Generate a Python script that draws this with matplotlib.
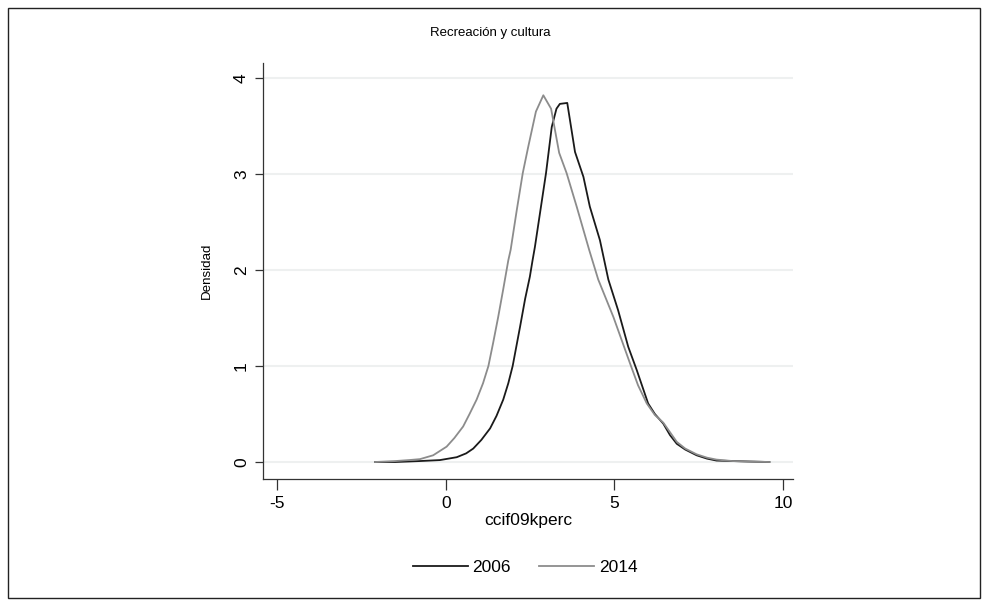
import matplotlib

matplotlib.use('Agg')
import matplotlib.pyplot as plt
from matplotlib.lines import Line2D
from matplotlib.patches import Rectangle

plt.rcParams['font.family'] = ['Liberation Sans Narrow', 'Liberation Sans', 'DejaVu Sans']

TITLE = 'Recreación y cultura'
XLABEL = 'ccif09kperc'
YLABEL = 'Densidad'
SERIES = ['2006', '2014']

# kernel density estimates
x_2006 = [-2.1, -1.5, -0.77, -0.18, 0.32, 0.6, 0.81, 1.05, 1.31, 1.5, 1.7, 1.85,
          1.98, 2.2, 2.35, 2.49, 2.57, 2.64, 2.79, 2.97, 3.14, 3.28, 3.38, 3.6,
          3.83, 4.08, 4.27, 4.57, 4.82, 5.11, 5.41, 5.66, 6.0, 6.2, 6.45, 6.65,
          6.85, 7.1, 7.44, 7.75, 8.03, 8.5, 9.0, 9.6]
y_2006 = [0.0, 0.0, 0.01, 0.02, 0.05, 0.09, 0.14, 0.23, 0.35, 0.48, 0.65, 0.82,
          1.0, 1.41, 1.70, 1.93, 2.10, 2.24, 2.59, 3.01, 3.49, 3.68, 3.73, 3.74,
          3.23, 2.97, 2.66, 2.31, 1.90, 1.58, 1.20, 0.96, 0.61, 0.50, 0.40, 0.28,
          0.19, 0.13, 0.07, 0.035, 0.015, 0.01, 0.005, 0.0]

x_2014 = [-2.1, -1.5, -1.1, -0.77, -0.38, 0.02, 0.25, 0.51, 0.7, 0.91, 1.1, 1.26,
          1.4, 1.55, 1.7, 1.85, 1.92, 2.1, 2.28, 2.44, 2.67, 2.89, 3.12, 3.36,
          3.58, 3.88, 4.25, 4.52, 4.97, 5.46, 5.7, 5.96, 6.2, 6.45, 6.85, 7.1,
          7.44, 7.75, 8.03, 8.5, 9.0, 9.6]
y_2014 = [0.0, 0.01, 0.02, 0.03, 0.07, 0.16, 0.25, 0.37, 0.50, 0.65, 0.82, 1.0,
          1.24, 1.51, 1.80, 2.10, 2.21, 2.62, 3.01, 3.28, 3.65, 3.82, 3.68, 3.22,
          3.01, 2.66, 2.21, 1.90, 1.51, 1.03, 0.80, 0.61, 0.49, 0.41, 0.21, 0.14,
          0.08, 0.045, 0.025, 0.01, 0.005, 0.0]

X_TICKS = [-5, 0, 5, 10]
Y_TICKS = [0, 1, 2, 3, 4]

COLORS = ['#1a1a1a', '#8c8c8c']

fig = plt.figure(figsize=(9.88, 6.07), dpi=100)
fig.patches.append(Rectangle((8 / 988, 9 / 607), 972 / 988, 590 / 607,
                             transform=fig.transFigure, fill=False,
                             edgecolor='#222222', linewidth=1.0))

ax = fig.add_axes([263 / 988, 1 - 479 / 607, 530 / 988, 416 / 607])
for ytk in Y_TICKS:
    ax.axhline(ytk, color='#eef0f0', linewidth=1.5, zorder=0)

ax.plot(x_2006, y_2006, color=COLORS[0], linewidth=1.3, label=SERIES[0])
ax.plot(x_2014, y_2014, color=COLORS[1], linewidth=1.3, label=SERIES[1])

ax.set_xlim(-5.43, 10.3)
ax.set_ylim(-0.177, 4.156)
ax.set_xticks(X_TICKS)
ax.set_xticklabels([str(t) for t in X_TICKS])
ax.set_yticks(Y_TICKS)
ax.set_yticklabels([str(t) for t in Y_TICKS], rotation=90, va='center')

for side in ['top', 'right']:
    ax.spines[side].set_visible(False)
for side in ['left', 'bottom']:
    ax.spines[side].set_color('#333333')
    ax.spines[side].set_linewidth(0.9)
ax.tick_params(axis='x', length=8, width=0.9, color='#333333', labelsize=12.5, pad=4)
ax.tick_params(axis='y', length=6, width=0.9, color='#333333', labelsize=12.5, pad=4)

ax.set_xlabel(XLABEL, fontsize=12.5, labelpad=2)
ax.set_ylabel(YLABEL, fontsize=9.6, labelpad=15)
fig.text(490 / 988, 1 - 33 / 607, TITLE, ha='center', va='center', fontsize=9.5)

handles = [Line2D([], [], color=c, linewidth=1.3) for c in COLORS]
fig.legend(handles, SERIES, loc='center', bbox_to_anchor=(525 / 988, 1 - 567 / 607),
           ncol=2, frameon=False, fontsize=12.5, handlelength=3.2,
           handletextpad=0.25, columnspacing=1.6)

fig.savefig('out.png', dpi=100)
